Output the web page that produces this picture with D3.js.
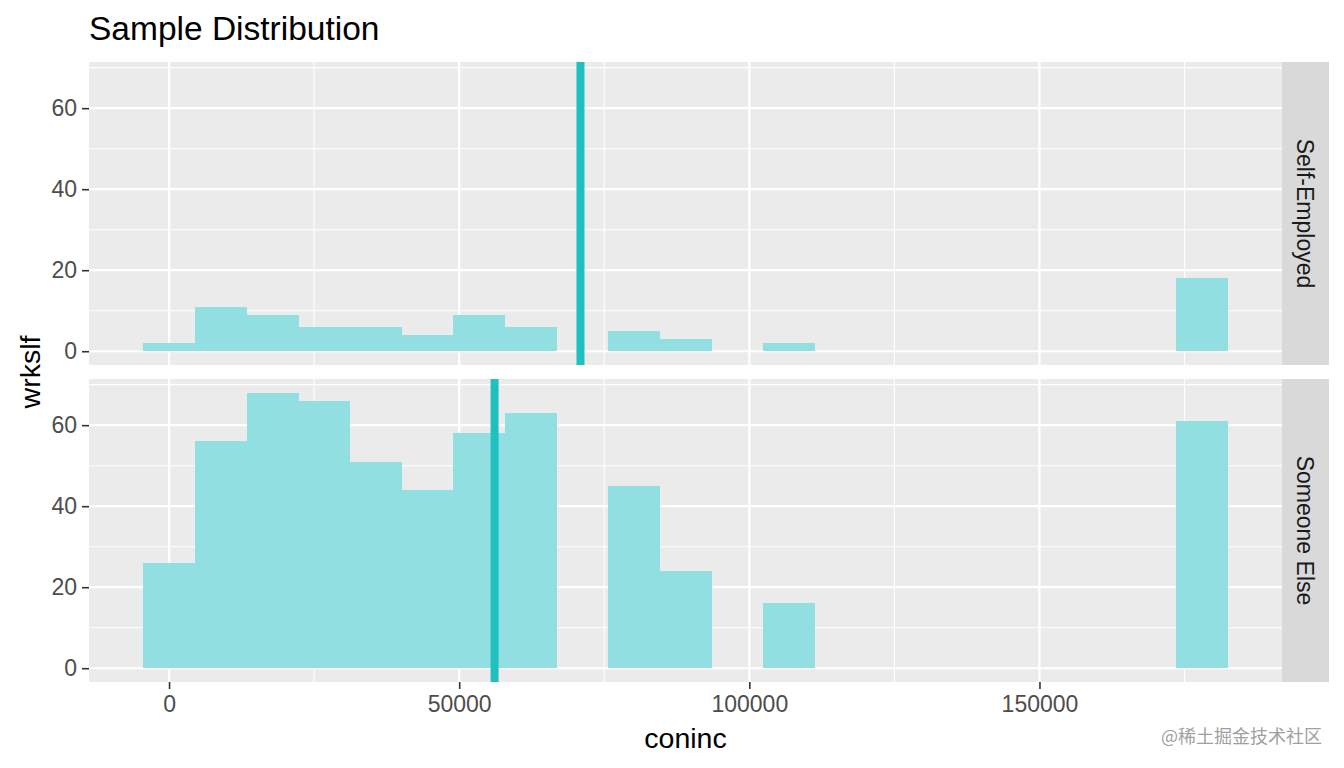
<!DOCTYPE html>
<html>
<head>
<meta charset="utf-8">
<script src="https://cdn.jsdelivr.net/npm/d3@7"></script>
<style>
  body { margin: 0; background: #fff; }
  svg { display: block; font-family: "Liberation Sans", Arial, sans-serif; }
</style>
</head>
<body>
<svg id="chart" width="1344" height="768"></svg>
<script>
// ---- data ----
const binWidth = 8900;
const binCenters = d3.range(21).map(i => i * 8900);
const facets = ["Self-Employed", "Someone Else"];
const countsSelf = [2, 11, 9, 6, 6, 4, 9, 6, 0, 5, 3, 0, 2, 0, 0, 0, 0, 0, 0, 0, 18];
const countsElse = [26, 56, 68, 66, 51, 44, 58, 63, 0, 45, 24, 0, 16, 0, 0, 0, 0, 0, 0, 0, 61];
const meanLines = [70900, 56100];
const xTicks = [0, 50000, 100000, 150000];
const xMinor = [25000, 75000, 125000, 175000];
const yTicks = [0, 20, 40, 60];
const yMinor = [10, 30, 50, 70];

const seriesByFacet = [countsSelf, countsElse];

// ---- layout ----
const svg = d3.select("#chart");
const left = 89, right = 1282, stripW = 47;
const panels = [{top: 62, bottom: 365}, {top: 379, bottom: 682}];

const xExt = [binCenters[0] - binWidth / 2, binCenters[binCenters.length - 1] + binWidth / 2];
const xPad = (xExt[1] - xExt[0]) * 0.05;
const x = d3.scaleLinear().domain([xExt[0] - xPad, xExt[1] + xPad]).range([left, right]);
const yMax = d3.max(seriesByFacet.flat());
const yPad = yMax * 0.05;

const barFill = "#91dfe1";
const lineCol = "#1fc0c0";

facets.forEach((name, fi) => {
  const p = panels[fi];
  const y = d3.scaleLinear().domain([-yPad, yMax + yPad]).range([p.bottom, p.top]);
  const g = svg.append("g");

  g.append("rect").attr("x", left).attr("y", p.top)
    .attr("width", right - left).attr("height", p.bottom - p.top).attr("fill", "#ebebeb");

  // minor grid
  g.selectAll(".ymin").data(yMinor).join("line")
    .attr("x1", left).attr("x2", right).attr("y1", d => y(d)).attr("y2", d => y(d))
    .attr("stroke", "#fff").attr("stroke-width", 1.1);
  g.selectAll(".xmin").data(xMinor).join("line")
    .attr("y1", p.top).attr("y2", p.bottom).attr("x1", d => x(d)).attr("x2", d => x(d))
    .attr("stroke", "#fff").attr("stroke-width", 1.1);
  // major grid
  g.selectAll(".ymaj").data(yTicks).join("line")
    .attr("x1", left).attr("x2", right).attr("y1", d => y(d)).attr("y2", d => y(d))
    .attr("stroke", "#fff").attr("stroke-width", 2.2);
  g.selectAll(".xmaj").data(xTicks).join("line")
    .attr("y1", p.top).attr("y2", p.bottom).attr("x1", d => x(d)).attr("x2", d => x(d))
    .attr("stroke", "#fff").attr("stroke-width", 2.2);

  // bars
  const counts = seriesByFacet[fi];
  g.selectAll(".bar").data(binCenters.map((c, i) => ({c, n: counts[i]})).filter(d => d.n > 0))
    .join("rect")
    .attr("x", d => x(d.c - binWidth / 2))
    .attr("width", d => x(d.c + binWidth / 2) - x(d.c - binWidth / 2) + 0.6)
    .attr("y", d => y(d.n))
    .attr("height", d => y(0) - y(d.n))
    .attr("fill", barFill)
    .attr("shape-rendering", "crispEdges");

  // mean line
  g.append("line")
    .attr("x1", x(meanLines[fi])).attr("x2", x(meanLines[fi]))
    .attr("y1", p.top).attr("y2", p.bottom)
    .attr("stroke", lineCol).attr("stroke-width", 8);

  // y axis
  const yAxis = d3.axisLeft(y).tickValues(yTicks).tickSize(7).tickPadding(5);
  const ya = svg.append("g").attr("transform", `translate(${left},0)`).call(yAxis);
  ya.select(".domain").remove();
  ya.selectAll("line").attr("stroke", "#333").attr("stroke-width", 1.6);
  ya.selectAll("text").attr("fill", "#4d4d4d").attr("font-size", 23)
    .attr("font-family", "Liberation Sans, Arial, sans-serif");

  // strip
  svg.append("rect").attr("x", right).attr("y", p.top)
    .attr("width", stripW).attr("height", p.bottom - p.top).attr("fill", "#d9d9d9");
  svg.append("text")
    .attr("transform", `translate(${right + stripW / 2},${(p.top + p.bottom) / 2}) rotate(90)`)
    .attr("text-anchor", "middle").attr("dy", "0.35em")
    .attr("fill", "#1a1a1a").attr("font-size", 23).text(name);
});

// x axis
const xAxis = d3.axisBottom(x).tickValues(xTicks).tickFormat(d3.format("d")).tickSize(7).tickPadding(7);
const xa = svg.append("g").attr("transform", `translate(0,${panels[1].bottom})`).call(xAxis);
xa.select(".domain").remove();
xa.selectAll("line").attr("stroke", "#333").attr("stroke-width", 1.6);
xa.selectAll("text").attr("fill", "#4d4d4d").attr("font-size", 23)
  .attr("font-family", "Liberation Sans, Arial, sans-serif");

// titles
svg.append("text").attr("x", 89).attr("y", 40).attr("font-size", 33.5).attr("fill", "#000")
  .text("Sample Distribution");
svg.append("text").attr("x", (left + right) / 2).attr("y", 748).attr("text-anchor", "middle")
  .attr("font-size", 28.5).attr("fill", "#000").text("coninc");
svg.append("text").attr("transform", `translate(40,${(panels[0].top + panels[1].bottom) / 2}) rotate(-90)`)
  .attr("text-anchor", "middle").attr("font-size", 28.5).attr("fill", "#000").text("wrkslf");

// watermark
svg.append("text").attr("x", 1322).attr("y", 743).attr("text-anchor", "end")
  .attr("font-size", 18).attr("fill", "#a0a0a0")
  .attr("font-family", "Noto Sans CJK SC, sans-serif").text("@稀土掘金技术社区");
</script>
</body>
</html>
